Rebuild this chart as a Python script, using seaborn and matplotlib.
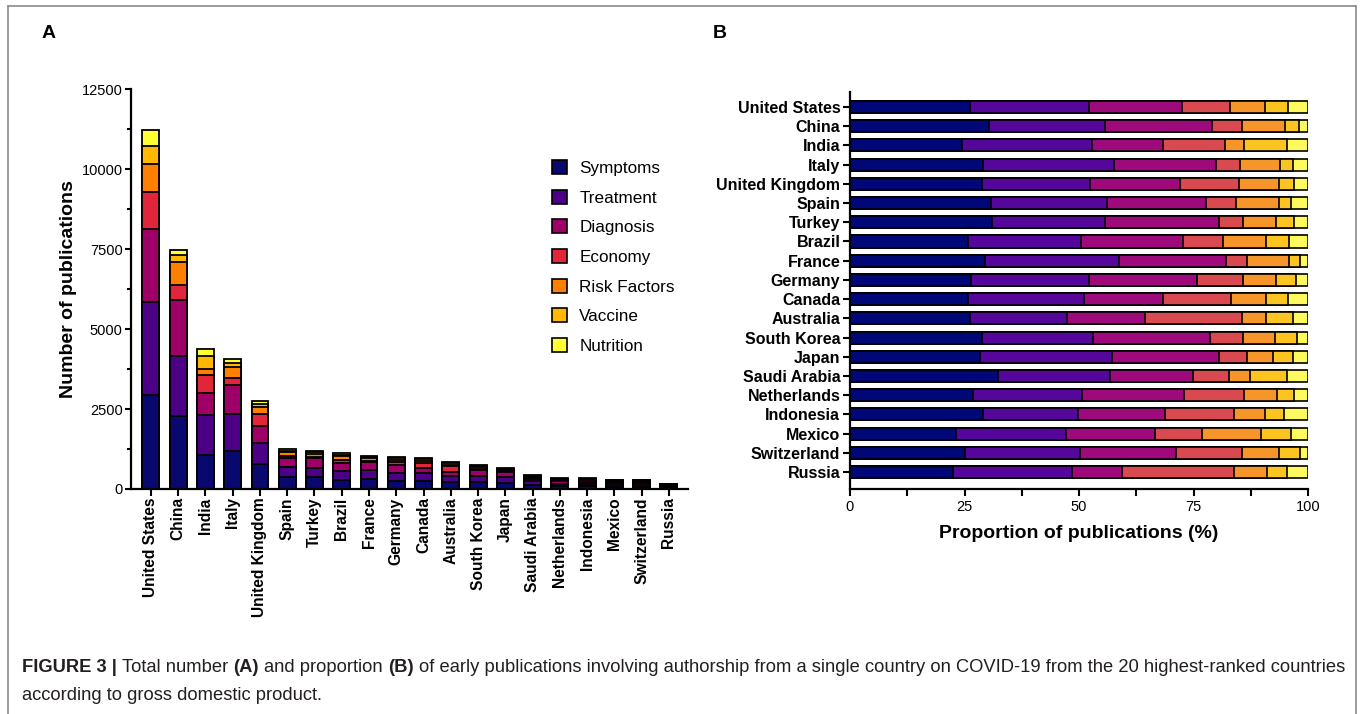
import matplotlib

matplotlib.use("Agg")

import matplotlib.pyplot as plt
import numpy as np
import pandas as pd
import seaborn as sns
from matplotlib.lines import Line2D
from matplotlib.patches import Patch
from matplotlib.ticker import MultipleLocator

COUNTRIES = [
    "United States", "China", "India", "Italy", "United Kingdom", "Spain",
    "Turkey", "Brazil", "France", "Germany", "Canada", "Australia",
    "South Korea", "Japan", "Saudi Arabia", "Netherlands", "Indonesia",
    "Mexico", "Switzerland", "Russia",
]
TOPICS = ["Symptoms", "Treatment", "Diagnosis", "Economy", "Risk Factors", "Vaccine", "Nutrition"]

# publication counts per topic, same order as COUNTRIES
symptoms = [2930, 2271, 1066, 1186, 792, 381, 367, 289, 301, 262, 252, 219, 214, 183, 139, 90, 96, 67, 68, 35]
treatment = [2930, 1890, 1241, 1161, 652, 314, 293, 279, 297, 254, 249, 176, 178, 186, 105, 80, 68, 70, 68, 40]
diagnosis = [2279, 1741, 682, 913, 536, 268, 296, 251, 240, 234, 169, 142, 190, 151, 78, 74, 63, 56, 57, 17]
economy = [1167, 486, 586, 212, 358, 83, 60, 96, 47, 99, 146, 177, 53, 39, 34, 44, 50, 30, 39, 38]
risk_factors = [876, 702, 184, 350, 237, 115, 87, 108, 93, 72, 75, 45, 51, 37, 20, 24, 22, 37, 22, 11]
vaccine = [561, 239, 411, 118, 91, 33, 45, 55, 24, 43, 47, 48, 37, 28, 34, 13, 14, 19, 12, 7]
nutrition = [482, 141, 200, 134, 84, 46, 37, 47, 18, 26, 42, 28, 17, 21, 20, 10, 17, 11, 5, 7]

COLORS_A = ["#08086e", "#4b0086", "#9e0068", "#e1263c", "#ff8000", "#ffb700", "#ffff33"]
COLORS_B = ["#000878", "#56079b", "#9e0a7c", "#d84a50", "#f6952a", "#fbc421", "#fdfa5e"]

FONT = ["Liberation Sans", "DejaVu Sans"]


def main() -> None:
    counts = pd.DataFrame(
        np.array([symptoms, treatment, diagnosis, economy, risk_factors, vaccine, nutrition]).T,
        index=COUNTRIES,
        columns=TOPICS,
    )
    cum = counts.cumsum(axis=1)
    pct = cum.div(counts.sum(axis=1), axis=0) * 100

    sns.set_theme(style="ticks")
    plt.rcParams["font.family"] = FONT
    plt.rcParams["axes.linewidth"] = 1.6
    plt.rcParams["axes.edgecolor"] = "black"
    plt.rcParams["axes.labelcolor"] = "black"
    plt.rcParams["text.color"] = "black"
    plt.rcParams["xtick.color"] = "black"
    plt.rcParams["ytick.color"] = "black"

    fig = plt.figure(figsize=(13.65, 7.14), dpi=100)
    W, H = 1365, 714

    def frac(x0, y0, x1, y1):
        return [x0 / W, 1 - y1 / H, (x1 - x0) / W, (y1 - y0) / H]

    ax_a = fig.add_axes(frac(131, 89.5, 688, 489))
    ax_b = fig.add_axes(frac(850, 92, 1308, 489))

    # ---- panel A: stacked counts (draw cumulative sums from the top down)
    for i in range(len(TOPICS) - 1, -1, -1):
        sns.barplot(
            x=COUNTRIES, y=cum.iloc[:, i].values, order=COUNTRIES,
            color=COLORS_A[i], saturation=1, edgecolor="black", linewidth=1.3,
            width=0.62, ax=ax_a,
        )
    ax_a.set_xlim(-0.73, 19.7)
    ax_a.set_ylim(0, 12500)
    ax_a.yaxis.set_major_locator(MultipleLocator(2500))
    ax_a.yaxis.set_minor_locator(MultipleLocator(1250))
    ax_a.tick_params(axis="y", which="major", length=4, width=1.5, labelsize=10.5, pad=2)
    ax_a.tick_params(axis="y", which="minor", length=3, width=1.5)
    ax_a.tick_params(axis="x", length=5, width=1.5, pad=1)
    ax_a.set_xticks(range(len(COUNTRIES)))
    ax_a.set_xticklabels(COUNTRIES, rotation=90, fontsize=11.2, fontweight="bold")
    ax_a.set_ylabel("Number of publications", fontsize=14, fontweight="bold", labelpad=3)
    ax_a.set_xlabel("")
    sns.despine(ax=ax_a)

    handles = [Patch(facecolor=c, edgecolor="black", linewidth=1.2) for c in COLORS_A]
    fig.legend(
        handles, TOPICS, loc="upper left", bbox_to_anchor=(552 / W, 1 - 160 / H),
        frameon=False, fontsize=12.3, handlelength=0.9, handleheight=0.9,
        handletextpad=0.7, labelspacing=0.8, borderpad=0, borderaxespad=0,
    )

    # ---- panel B: proportions
    for i in range(len(TOPICS) - 1, -1, -1):
        sns.barplot(
            x=pct.iloc[:, i].values, y=COUNTRIES, order=COUNTRIES, orient="h",
            color=COLORS_B[i], saturation=1, edgecolor="black", linewidth=1.2,
            width=0.63, ax=ax_b,
        )
    ax_b.set_xlim(0, 100)
    ax_b.set_ylim(19.88, -0.78)
    ax_b.xaxis.set_major_locator(MultipleLocator(25))
    ax_b.xaxis.set_minor_locator(MultipleLocator(12.5))
    ax_b.tick_params(axis="x", which="both", length=5, width=1.5, labelsize=10.5, pad=3)
    ax_b.tick_params(axis="y", length=5, width=1.5, pad=2)
    ax_b.set_yticks(range(len(COUNTRIES)))
    ax_b.set_yticklabels(COUNTRIES, fontsize=11.5, fontweight="bold")
    ax_b.set_xlabel("Proportion of publications (%)", fontsize=14, fontweight="bold", labelpad=8)
    ax_b.set_ylabel("")
    sns.despine(ax=ax_b)

    # panel letters
    fig.text(42 / W, 1 - 33 / H, "A", fontsize=14, fontweight="bold", va="center")
    fig.text(713 / W, 1 - 33 / H, "B", fontsize=14, fontweight="bold", va="center")

    # frame around the figure area
    frame_kw = dict(color="#8a8a8a", linewidth=1.2, transform=fig.transFigure)
    fig.add_artist(Line2D([8 / W, 1356 / W], [1 - 6 / H, 1 - 6 / H], **frame_kw))
    fig.add_artist(Line2D([8 / W, 8 / W], [1 - 6 / H, 0], **frame_kw))
    fig.add_artist(Line2D([1356 / W, 1356 / W], [1 - 6 / H, 0], **frame_kw))

    # caption with mixed bold / regular runs
    renderer = fig.canvas.get_renderer()
    cap_kw = dict(fontsize=13.25, color="#231f20", va="center", ha="left")

    def run_width(s, weight):
        t = fig.text(0, 0, s, fontweight=weight, **cap_kw)
        w = t.get_window_extent(renderer).width
        t.remove()
        return w

    space = run_width("x x", "normal") - run_width("xx", "normal")
    line1 = [
        ("FIGURE 3 |", "bold"),
        ("Total number", "normal"),
        ("(A)", "bold"),
        ("and proportion", "normal"),
        ("(B)", "bold"),
        ("of early publications involving authorship from a single country on COVID-19 "
         "from the 20 highest-ranked countries", "normal"),
    ]
    x = 22.0
    for s, weight in line1:
        fig.text(x / W, 1 - 668 / H, s, fontweight=weight, **cap_kw)
        x += run_width(s, weight) + space
    fig.text(22 / W, 1 - 695 / H, "according to gross domestic product.", **cap_kw)

    fig.savefig("out.png", dpi=100)
    plt.close(fig)


if __name__ == "__main__":
    main()
